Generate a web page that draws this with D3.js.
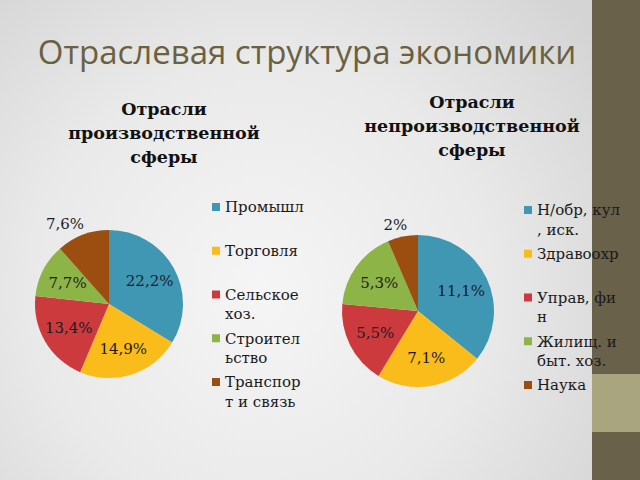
<!DOCTYPE html>
<html>
<head>
<meta charset="utf-8">
<script src="https://cdn.jsdelivr.net/npm/d3@7"></script>
<style>
  html, body { margin: 0; padding: 0; }
  body { width: 640px; height: 480px; overflow: hidden; }
</style>
</head>
<body>
<svg id="chart"></svg>
<script>
// sector structure of the economy - two pies

var title = "Отраслевая структура экономики";

var leftTitle = ["Отрасли", "производственной", "сферы"];
var leftCats = ["Промышл", "Торговля", "Сельское хоз.", "Строительство", "Транспорт и связь"];
var leftLegend = [["Промышл"], ["Торговля"], ["Сельское", "хоз."], ["Строител", "ьство"], ["Транспор", "т и связь"]];
var leftValues = [22.2, 14.9, 13.4, 7.7, 7.6];
var leftLabels = ["22,2%", "14,9%", "13,4%", "7,7%", "7,6%"];

var rightTitle = ["Отрасли", "непроизводственной", "сферы"];
var rightCats = ["Н/обр, кул, иск.", "Здравоохр", "Управ, фин", "Жилищ. и быт. хоз.", "Наука"];
var rightLegend = [["Н/обр, кул", ", иск."], ["Здравоохр"], ["Управ, фи", "н"], ["Жилищ. и", "быт. хоз."], ["Наука"]];
var rightValues = [11.1, 7.1, 5.5, 5.3, 2];
var rightLabels = ["11,1%", "7,1%", "5,5%", "5,3%", "2%"];

var colors = ["#3f97b4", "#f9bc1a", "#cc3a3d", "#8db446", "#9b4e10"];

var width = 640, height = 480;

var svg = d3.select("#chart").attr("width", width).attr("height", height);

// background
var defs = svg.append("defs");
var grad = defs.append("radialGradient").attr("id", "bg")
    .attr("gradientUnits", "userSpaceOnUse")
    .attr("cx", 260).attr("cy", 290).attr("r", 420);
grad.append("stop").attr("offset", "0").attr("stop-color", "#f6f5f6");
grad.append("stop").attr("offset", "0.55").attr("stop-color", "#e9e9ea");
grad.append("stop").attr("offset", "1").attr("stop-color", "#d4d4d4");
svg.append("rect").attr("width", width).attr("height", height).attr("fill", "url(#bg)");

// right side strip
svg.append("rect").attr("x", 592).attr("y", 0).attr("width", 48).attr("height", height).attr("fill", "#69614a");
svg.append("rect").attr("x", 592).attr("y", 374).attr("width", 48).attr("height", 58).attr("fill", "#a9a67f");

svg.append("text")
    .attr("x", 307).attr("y", 64)
    .attr("text-anchor", "middle")
    .style("font-family", "'Open Sans', sans-serif")
    .style("font-size", "33px")
    .style("fill", "#6a6141")
    .text(title);

function drawPie(opt) {
  var g = svg.append("g");

  g.selectAll(".ttl").data(opt.title).enter().append("text")
      .attr("x", opt.tx)
      .attr("y", function(d, i) { return opt.ty + i * 24; })
      .attr("text-anchor", "middle")
      .style("font-family", "'DejaVu Serif', serif")
      .style("font-weight", "bold")
      .style("font-size", "17.5px")
      .style("fill", "#111")
      .text(function(d) { return d; });

  var pie = d3.pie().sort(null).value(function(d) { return d; });
  var arcs = pie(opt.values);
  var arc = d3.arc().innerRadius(0).outerRadius(opt.r);
  var inner = d3.arc().innerRadius(opt.r * 0.63).outerRadius(opt.r * 0.63);
  var outer = d3.arc().innerRadius(opt.r * 1.16).outerRadius(opt.r * 1.16);

  var pg = g.append("g").attr("transform", "translate(" + opt.cx + "," + opt.cy + ")");
  pg.selectAll("path").data(arcs).enter().append("path")
      .attr("d", arc)
      .style("fill", function(d, i) { return colors[i]; });

  pg.selectAll(".lbl").data(arcs).enter().append("text")
      .attr("class", "lbl")
      .attr("text-anchor", "middle")
      .attr("dy", "0.35em")
      .style("font-family", "'DejaVu Serif', serif")
      .style("font-size", "15px")
      .style("fill", "#1c1c24")
      .text(function(d, i) { return opt.labels[i]; })
      .each(function(d, i) {
        var p;
        if (opt.outside[i]) {
          p = outer.centroid(d);
          var a = (d.startAngle + d.endAngle) / 2;
          p[0] += Math.sin(a) * this.getComputedTextLength();
        } else {
          p = inner.centroid(d);
        }
        d3.select(this).attr("x", p[0]).attr("y", p[1]);
      });

  var ly = d3.scalePoint().domain(opt.cats).range(opt.legendRange);
  var lg = g.selectAll(".leg").data(opt.cats).enter().append("g")
      .attr("transform", function(d) { return "translate(" + opt.lx + "," + ly(d) + ")"; });
  lg.append("rect")
      .attr("x", 0).attr("y", -4).attr("width", 8).attr("height", 8)
      .style("fill", function(d, i) { return colors[i]; });
  lg.each(function(d, i) {
    d3.select(this).selectAll("text").data(opt.legend[i]).enter().append("text")
        .attr("x", 13)
        .attr("y", function(t, j) { return j * 19.5; })
        .attr("dy", "0.35em")
        .style("font-family", "'DejaVu Serif', serif")
        .style("font-size", "15px")
        .style("fill", "#1a1a1a")
        .text(function(t) { return t; });
  });
}

drawPie({
  title: leftTitle, tx: 164, ty: 115,
  values: leftValues, labels: leftLabels, outside: [false, false, false, false, true],
  cx: 109, cy: 304, r: 74,
  cats: leftCats, legend: leftLegend, lx: 212, legendRange: [207, 382]
});

drawPie({
  title: rightTitle, tx: 472, ty: 108,
  values: rightValues, labels: rightLabels, outside: [false, false, false, false, true],
  cx: 418, cy: 311, r: 76,
  cats: rightCats, legend: rightLegend, lx: 524, legendRange: [210, 385]
});
</script>
</body>
</html>
